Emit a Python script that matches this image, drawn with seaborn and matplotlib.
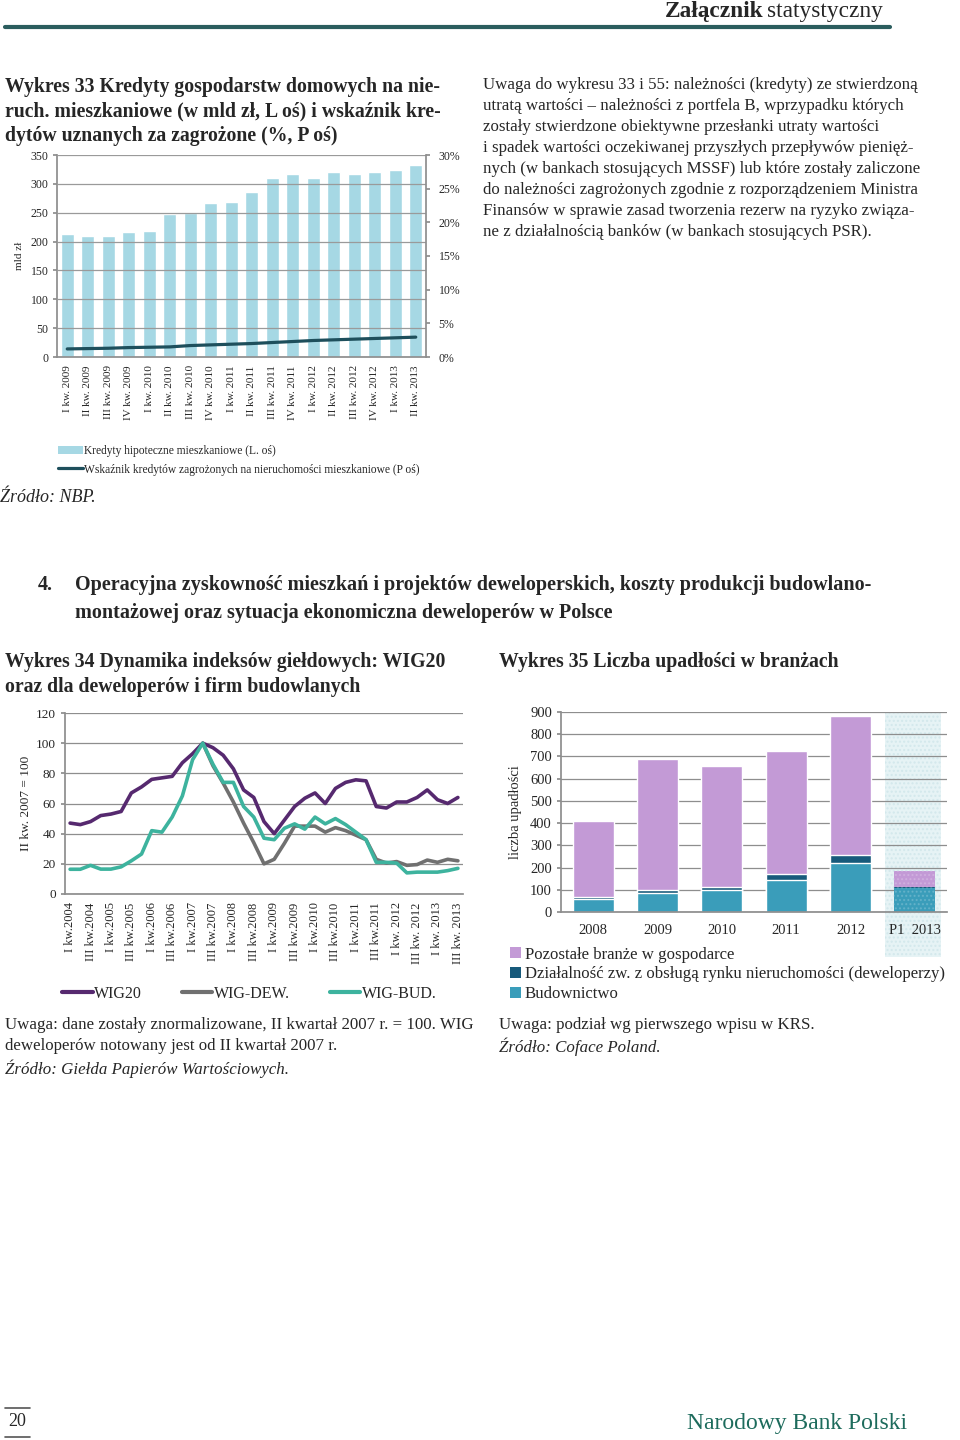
import numpy as np
import pandas as pd
import matplotlib
matplotlib.use("Agg")
import matplotlib.pyplot as plt
import seaborn as sns
from matplotlib.patches import Patch, Rectangle
from matplotlib.lines import Line2D
import matplotlib.transforms as mtransforms

# ---------------- DATA ----------------
# Wykres 33
q33_labels = ["I kw. 2009", "II kw. 2009", "III kw. 2009", "IV kw. 2009",
              "I kw. 2010", "II kw. 2010", "III kw. 2010", "IV kw. 2010",
              "I kw. 2011", "II kw. 2011", "III kw. 2011", "IV kw. 2011",
              "I kw. 2012", "II kw. 2012", "III kw. 2012", "IV kw. 2012",
              "I kw. 2013", "II kw. 2013"]
mortgage_bn = [213, 210, 210, 216, 218, 248, 249, 266, 268, 286,
               310, 317, 311, 321, 317, 320, 324, 332]
npl_ratio = [1.2, 1.25, 1.3, 1.4, 1.45, 1.5, 1.7, 1.8, 1.9, 2.0,
             2.15, 2.3, 2.45, 2.55, 2.65, 2.75, 2.85, 2.95]

# Wykres 34 (quarterly, I kw. 2004 - III kw. 2013)
q34_labels = ["I kw.2004", "III kw.2004", "I kw.2005", "III kw.2005",
              "I kw.2006", "III kw.2006", "I kw.2007", "III kw.2007",
              "I kw.2008", "III kw.2008", "I kw.2009", "III kw.2009",
              "I kw.2010", "III kw.2010", "I kw.2011", "III kw.2011",
              "I kw. 2012", "III kw. 2012", "I kw. 2013", "III kw. 2013"]
wig20 = [47, 46, 48, 52, 53, 54.7, 67, 71, 76, 77, 78, 87, 93, 100, 97, 92,
         83, 69, 64, 48, 40, 49, 58, 63.5, 67, 60, 70, 74, 75.7, 75, 58, 57,
         61, 61, 64, 69, 62.5, 60, 64]
wig_dew = [np.nan] * 13 + [100, 85, 73.5, 61, 47, 34, 20, 23, 33.6, 45, 45,
                           45, 41, 44, 42, 39, 36, 23, 20.5, 21.5, 19, 19.5,
                           22.5, 21, 23, 22]
wig_bud = [16.4, 16.4, 19, 16.5, 16.5, 18, 22, 26.5, 42, 41, 51, 65, 89, 100,
           86, 74, 74, 58, 51, 37, 36, 43.6, 46.5, 43, 51, 46.5, 50, 46, 41,
           36, 21, 21, 20.5, 14, 14.5, 14.5, 14.5, 15.5, 17]

# Wykres 35
years35 = ["2008", "2009", "2010", "2011", "2012", "P1  2013"]
budownictwo = [60, 84, 99, 144, 219, 106]
deweloperzy = [8, 13, 12, 28, 37, 6]
pozostale = [342, 593, 546, 553, 624, 72]

# ---------------- STYLE ----------------
sns.set_theme(style="white")
SERIF = ["Liberation Serif", "DejaVu Serif"]
plt.rcParams["font.family"] = SERIF
plt.rcParams["axes.unicode_minus"] = False

W, H = 960, 1440
fig = plt.figure(figsize=(9.6, 14.4), dpi=100)
fig.patch.set_facecolor("white")


def fx(x):
    return x / W


def fy(y):
    return 1 - y / H


def T(x, y, s, size=12.2, **kw):
    kw.setdefault("va", "center")
    kw.setdefault("ha", "left")
    return fig.text(fx(x), fy(y), s, fontsize=size, family=SERIF, **kw)


def add_axes(l, t, r, b):
    return fig.add_axes([fx(l), fy(b), (r - l) / W, (b - t) / H])


GRID = "#8e8e8e"
SPINE = "#8e8e8e"
BODY = 12.2
TITLE = 14.2

# ---------------- HEADER ----------------
hdr2 = T(883, 12, "statystyczny", size=16.8, ha="right")
fig.canvas.draw()
bb = hdr2.get_window_extent(fig.canvas.get_renderer())
T(bb.x0 - 4, 12, "Załącznik", size=16.8, ha="right", fontweight="bold")
fig.add_artist(Line2D([fx(5), fx(890)], [fy(27), fy(27)], color="#2b5d5e", lw=3))

# ---------------- CHART 33 ----------------
for i, s in enumerate(["Wykres 33 Kredyty gospodarstw domowych na nie-",
                       "ruch. mieszkaniowe (w mld zł, L oś) i wskaźnik kre-",
                       "dytów uznanych za zagrożone (%, P oś)"]):
    T(5, 87 + i * 24.5, s, size=TITLE, fontweight="bold")

para = ["Uwaga do wykresu 33 i 55: należności (kredyty) ze stwierdzoną",
        "utratą wartości – należności z portfela B, wprzypadku których",
        "zostały stwierdzone obiektywne przesłanki utraty wartości",
        "i spadek wartości oczekiwanej przyszłych przepływów pienięż-",
        "nych (w bankach stosujących MSSF) lub które zostały zaliczone",
        "do należności zagrożonych zgodnie z rozporządzeniem Ministra",
        "Finansów w sprawie zasad tworzenia rezerw na ryzyko związa-",
        "ne z działalnością banków (w bankach stosujących PSR)."]
for i, s in enumerate(para):
    T(483, 85 + i * 21, s, size=BODY)

ax1 = add_axes(57, 155, 426, 357)
df33 = pd.DataFrame({"kw": q33_labels, "val": mortgage_bn})
sns.barplot(data=df33, x="kw", y="val", color="#a6d8e4", saturation=1,
            width=0.63, ax=ax1, zorder=2)
ax1.set_xlim(-0.5, len(q33_labels) - 0.5)
ax1.set_ylim(0, 350)
ax1.set_yticks(range(0, 351, 50))
ax1.set_axisbelow(False)
ax1.grid(axis="y", color="#9a9a9a", lw=0.9, zorder=2.5)
ax1.set_xlabel("")
ax1.set_ylabel("mld zł", fontsize=8, labelpad=5)
ax1.set_xticks(range(len(q33_labels)))
ax1.set_xticklabels(q33_labels, rotation=90, fontsize=8)
ax1.set_xticks(np.arange(-0.5, len(q33_labels), 1), minor=True)
ax1.tick_params(axis="x", which="major", length=0, pad=6)
ax1.tick_params(axis="x", which="minor", length=4, color=SPINE)
ax1.tick_params(axis="y", labelsize=8.5, length=3, color=SPINE, left=True, pad=3)
for sp in ["top", "right"]:
    ax1.spines[sp].set_visible(False)
for sp in ["left", "bottom"]:
    ax1.spines[sp].set_color(SPINE)

ax1b = ax1.twinx()
sns.lineplot(x=np.arange(len(npl_ratio)), y=npl_ratio, ax=ax1b,
             color="#1e4f5c", lw=2.3, zorder=3)
ax1b.set_ylim(0, 30)
ax1b.set_yticks(range(0, 31, 5))
ax1b.set_yticklabels([f"{v}%" for v in range(0, 31, 5)])
ax1b.set_xlim(-0.5, len(q33_labels) - 0.5)
ax1b.tick_params(axis="y", labelsize=8.5, length=3, color=SPINE, right=True, pad=6)
ax1b.set_ylabel("")
for sp in ["top", "left", "bottom"]:
    ax1b.spines[sp].set_visible(False)
ax1b.spines["right"].set_color(SPINE)

h33 = [Patch(facecolor="#a6d8e4", edgecolor="none"),
       Line2D([0], [0], color="#1e4f5c", lw=2.3)]
fig.legend(h33, ["Kredyty hipoteczne mieszkaniowe (L. oś)",
                 "Wskaźnik kredytów zagrożonych na nieruchomości mieszkaniowe (P oś)"],
           loc="upper left", bbox_to_anchor=(fx(53), fy(440)), frameon=False,
           fontsize=8.3, handlelength=2.2, handleheight=0.7, labelspacing=0.6,
           handletextpad=0.1, borderaxespad=0)

T(0, 497, "Źródło: NBP.", size=13, style="italic")

# ---------------- SECTION 4 ----------------
T(38, 585, "4.", size=14.5, fontweight="bold")
T(75, 585, "Operacyjna zyskowność mieszkań i projektów deweloperskich, koszty produkcji budowlano-",
  size=14.5, fontweight="bold")
T(75, 613, "montażowej oraz sytuacja ekonomiczna deweloperów w Polsce", size=14.5,
  fontweight="bold")

# ---------------- CHART 34 ----------------
T(5, 662, "Wykres 34 Dynamika indeksów giełdowych: WIG20", size=TITLE, fontweight="bold")
T(5, 687, "oraz dla deweloperów i firm budowlanych", size=TITLE, fontweight="bold")

ax2 = add_axes(65, 713, 463, 894)
n34 = len(wig20)
idx = np.arange(n34)
df34 = pd.concat([
    pd.DataFrame({"idx": idx, "val": wig20, "seria": "WIG20"}),
    pd.DataFrame({"idx": idx, "val": wig_dew, "seria": "WIG-DEW."}),
    pd.DataFrame({"idx": idx, "val": wig_bud, "seria": "WIG-BUD."}),
]).dropna()
pal34 = {"WIG20": "#56296f", "WIG-DEW.": "#707070", "WIG-BUD.": "#3db39e"}
sns.lineplot(data=df34, x="idx", y="val", hue="seria", palette=pal34,
             hue_order=["WIG20", "WIG-DEW.", "WIG-BUD."], estimator=None,
             lw=2.6, ax=ax2, legend=False)
ax2.set_xlim(-0.5, n34 - 0.5)
ax2.set_ylim(0, 120)
ax2.set_yticks(range(0, 121, 20))
ax2.set_axisbelow(True)
ax2.grid(axis="y", color=GRID, lw=0.9)
ax2.set_xlabel("")
ax2.set_ylabel("II kw. 2007 = 100", fontsize=9.5, labelpad=3)
ax2.set_xticks(np.arange(0, n34, 2))
ax2.set_xticklabels(q34_labels, rotation=90, fontsize=9)
ax2.set_xticks(np.arange(-0.5, n34, 1), minor=True)
ax2.tick_params(axis="x", which="major", length=0, pad=6)
ax2.tick_params(axis="x", which="minor", length=4, color=SPINE)
ax2.tick_params(axis="y", labelsize=9.5, length=3, color=SPINE, left=True)
for sp in ["top", "right"]:
    ax2.spines[sp].set_visible(False)
for sp in ["left", "bottom"]:
    ax2.spines[sp].set_color(SPINE)

h34 = [Line2D([0], [0], color=pal34[k], lw=3) for k in pal34]
fig.legend(h34, list(pal34.keys()), loc="center left",
           bbox_to_anchor=(fx(56), fy(994)), ncol=3, frameon=False,
           fontsize=11.5, handlelength=1.9, handletextpad=0.1, columnspacing=2.5,
           borderaxespad=0)

T(5, 1025, "Uwaga: dane zostały znormalizowane, II kwartał 2007 r. = 100. WIG", size=BODY)
T(5, 1046, "deweloperów notowany jest od II kwartał 2007 r.", size=BODY)
T(5, 1069, "Źródło: Giełda Papierów Wartościowych.", size=BODY, style="italic")

# ---------------- CHART 35 ----------------
T(499, 662, "Wykres 35 Liczba upadłości w branżach", size=TITLE, fontweight="bold")

c_poz, c_dew, c_bud = "#c39ad6", "#175a7b", "#3a9dba"
ax3 = add_axes(561, 712, 947, 912)
tot = [b + d + p for b, d, p in zip(budownictwo, deweloperzy, pozostale)]
mid = [b + d for b, d in zip(budownictwo, deweloperzy)]
sns.barplot(x=years35, y=tot, color=c_poz, saturation=1, width=0.64, ax=ax3, zorder=2)
sns.barplot(x=years35, y=mid, color=c_dew, saturation=1, width=0.64, ax=ax3, zorder=2)
sns.barplot(x=years35, y=budownictwo, color=c_bud, saturation=1, width=0.64, ax=ax3, zorder=2)
for p in ax3.patches:
    if abs(p.get_x() + p.get_width() / 2 - 5) < 0.1:
        p.set_hatch("....")
        p.set_edgecolor((1, 1, 1, 0.18))
        p.set_linewidth(0)
ax3.set_xlim(-0.5, len(years35) - 0.5)
ax3.set_ylim(0, 900)
ax3.set_yticks(range(0, 901, 100))
ax3.set_axisbelow(True)
ax3.grid(axis="y", color=GRID, lw=0.9)
ax3.set_xlabel("")
ax3.set_ylabel("liczba upadłości", fontsize=10.5, labelpad=6)
ax3.set_xticks(range(len(years35)))
ax3.set_xticklabels(years35, fontsize=10.5)
ax3.set_xticks(np.arange(-0.5, len(years35), 1), minor=True)
ax3.tick_params(axis="x", which="major", length=0, pad=9)
ax3.tick_params(axis="x", which="minor", length=4, color=SPINE)
ax3.tick_params(axis="y", labelsize=10.5, length=3, color=SPINE, left=True)
for sp in ["top", "right"]:
    ax3.spines[sp].set_visible(False)
for sp in ["left", "bottom"]:
    ax3.spines[sp].set_color(SPINE)
shade = Rectangle((4.54, -0.225), 0.87, 1.225,
                  transform=mtransforms.blended_transform_factory(ax3.transData, ax3.transAxes),
                  facecolor="#e6f3f5", edgecolor="#d3e8ec", hatch="....", lw=0,
                  clip_on=False, zorder=0)
ax3.add_patch(shade)

h35 = [Patch(facecolor=c, edgecolor="none") for c in (c_poz, c_dew, c_bud)]
fig.legend(h35, ["Pozostałe branże w gospodarce",
                 "Działalność zw. z obsługą rynku nieruchomości (deweloperzy)",
                 "Budownictwo"],
           loc="upper left", bbox_to_anchor=(fx(503), fy(940)), frameon=False,
           fontsize=12.1, handlelength=0.65, handleheight=0.65, handletextpad=0.25,
           labelspacing=0.22, borderaxespad=0)

T(499, 1025, "Uwaga: podział wg pierwszego wpisu w KRS.", size=BODY)
T(499, 1047, "Źródło: Coface Poland.", size=BODY, style="italic")

# ---------------- FOOTER ----------------
fig.add_artist(Line2D([fx(5), fx(30)], [fy(1408), fy(1408)], color="#555555", lw=1.2))
fig.add_artist(Line2D([fx(5), fx(30)], [fy(1437), fy(1437)], color="#555555", lw=1.2))
T(17, 1422, "20", size=13, ha="center")
T(907, 1424, "Narodowy Bank Polski", size=17, ha="right", color="#1d6b5c")

fig.savefig("out.png", dpi=100, facecolor="white")
